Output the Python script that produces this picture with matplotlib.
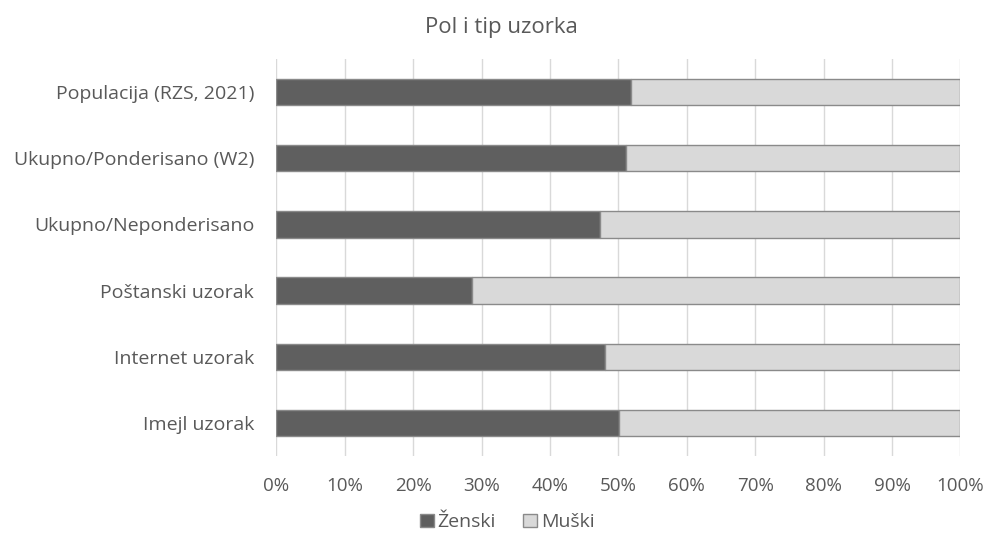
import matplotlib
matplotlib.use("Agg")
import matplotlib.pyplot as plt
from matplotlib.ticker import PercentFormatter

categories = [
    "Populacija (RZS, 2021)",
    "Ukupno/Ponderisano (W2)",
    "Ukupno/Neponderisano",
    "Poštanski uzorak",
    "Internet uzorak",
    "Imejl uzorak",
]
zenski = [51.9, 51.1, 47.3, 28.6, 48.0, 50.1]
muski = [100 - v for v in zenski]
x_ticks = list(range(0, 101, 10))

plt.rcParams["font.family"] = ["Open Sans", "DejaVu Sans"]
text_color = "#595959"

fig = plt.figure(figsize=(9.87, 5.33), dpi=100)
ax = fig.add_axes([0.2801, 0.1445, 0.6930, 0.7448])

y = list(range(len(categories)))[::-1]
ax.barh(y, zenski, height=0.4, color="#5f5f5f", edgecolor="#8a8a8a",
        linewidth=1, label="Ženski", zorder=3)
ax.barh(y, muski, left=zenski, height=0.4, color="#d9d9d9",
        edgecolor="#8a8a8a", linewidth=1, label="Muški", zorder=3)

ax.set_xlim(0, 100)
ax.set_ylim(-0.5, len(categories) - 0.5)
ax.set_xticks(x_ticks)
ax.xaxis.set_major_formatter(PercentFormatter(decimals=0))
ax.set_yticks(y)
ax.set_yticklabels(categories)
ax.grid(axis="x", color="#d9d9d9", linewidth=1, zorder=0)
for s in ax.spines.values():
    s.set_visible(False)
ax.tick_params(axis="both", length=0, labelsize=13.5, colors=text_color)
ax.tick_params(axis="y", labelsize=14, pad=16)
ax.tick_params(axis="x", pad=15)

fig.text(0.508, 0.948, "Pol i tip uzorka", ha="center", va="center",
         fontsize=16, color=text_color)

leg = fig.legend(loc="center", bbox_to_anchor=(0.514, 0.02), ncol=2,
                 frameon=False, fontsize=14, handlelength=0.7,
                 handleheight=0.7, handletextpad=0.2, columnspacing=1.4)
for t in leg.get_texts():
    t.set_color(text_color)

fig.savefig("out.png", dpi=100)
